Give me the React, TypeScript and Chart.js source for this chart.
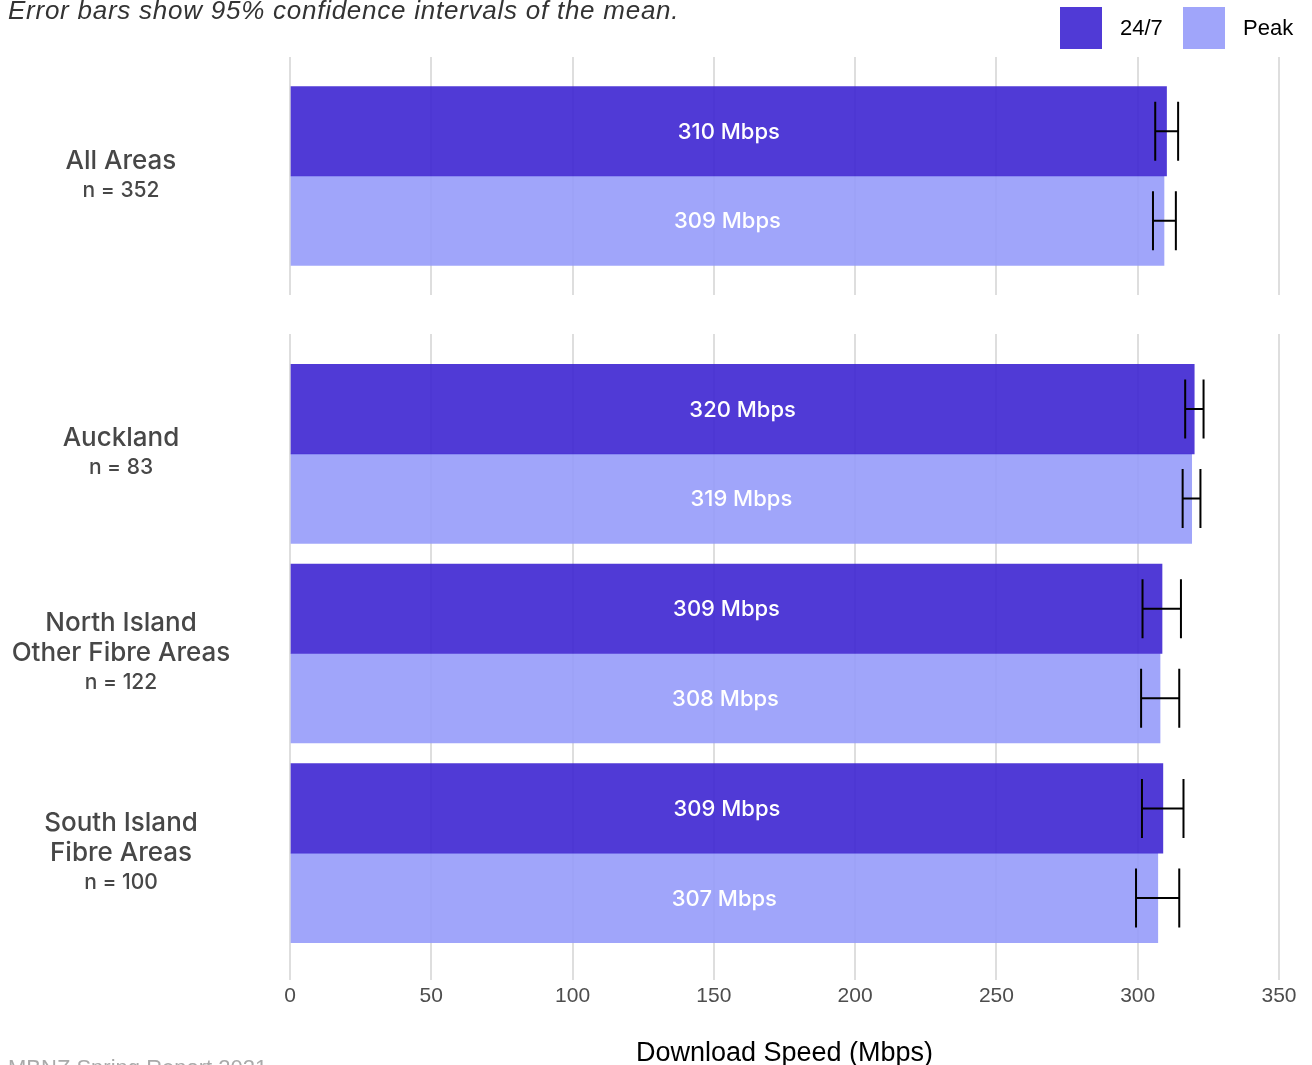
import React, { useEffect, useRef } from "react";
import { Chart, registerables } from "chart.js";

Chart.register(...registerables);

// ---------- data ----------
const seriesNames = ["24/7", "Peak"];

const topCategories = [["All Areas"]];
const topSamples = [352];
const top247 = [310.2];
const topPeak = [309.3];
const top247Low = [306.2];
const top247High = [314.3];
const topPeakLow = [305.4];
const topPeakHigh = [313.5];

const bottomCategories = [["Auckland"], ["North Island", "Other Fibre Areas"], ["South Island", "Fibre Areas"]];
const bottomSamples = [83, 122, 100];
const bottom247 = [320.0, 308.6, 308.9];
const bottomPeak = [319.1, 307.9, 307.1];
const bottom247Low = [316.8, 301.7, 301.5];
const bottom247High = [323.3, 315.3, 316.2];
const bottomPeakLow = [315.9, 301.2, 299.4];
const bottomPeakHigh = [322.2, 314.7, 314.7];

const xMin = 0;
const xMax = 350;
const xStep = 50;

const subtitleText = "Error bars show 95% confidence intervals of the mean.";
const xAxisTitle = "Download Speed (Mbps)";
const captionText = "MBNZ Spring Report 2021";

// ---------- styles ----------
const COLOR_247 = "rgba(61,37,209,0.9)";
const COLOR_PEAK = "rgba(150,155,250,0.9)";
const GRID_COLOR = "#dedede";
const FONT_LABEL = "Inter, 'Open Sans', sans-serif";
const FONT_AXIS = "'Liberation Sans', Arial, sans-serif";

function makeLabelPlugin(cats: string[][], samples: number[]) {
  return {
    id: "catLabels",
    afterDraw(chart: any) {
      const ys = chart.scales.y;
      const ctx = chart.ctx;
      ctx.save();
      ctx.fillStyle = "#474747";
      ctx.textAlign = "center";
      ctx.textBaseline = "middle";
      cats.forEach((lines, i) => {
        const cy = ys.getPixelForValue(i + 1);
        const all = [...lines, `n = ${samples[i]}`];
        const step = 29.5;
        const y0 = cy - ((all.length - 1) * step) / 2 - 0.5;
        all.forEach((t, k) => {
          const isN = k === all.length - 1;
          ctx.font = isN ? `500 21px ${FONT_LABEL}` : `500 26px ${FONT_LABEL}`;
          ctx.fillText(t, 121, y0 + k * step);
        });
      });
      ctx.restore();
    },
  };
}

const barDecorPlugin = {
  id: "barDecor",
  afterDatasetsDraw(chart: any) {
    const ctx = chart.ctx;
    const xs = chart.scales.x;
    ctx.save();
    chart.data.datasets.forEach((ds: any, di: number) => {
      const meta = chart.getDatasetMeta(di);
      meta.data.forEach((el: any, j: number) => {
        const p = el.getProps(["x", "y", "base"], true);
        const v = ds.data[j].x;
        ctx.fillStyle = "#ffffff";
        ctx.font = `500 22px ${FONT_LABEL}`;
        ctx.textAlign = "center";
        ctx.textBaseline = "middle";
        ctx.fillText(`${Math.round(v)} Mbps`, (p.x + p.base) / 2, p.y + 1);
        const xl = xs.getPixelForValue(ds.errLow[j]);
        const xh = xs.getPixelForValue(ds.errHigh[j]);
        const half = 29.5;
        ctx.strokeStyle = "#000000";
        ctx.lineWidth = 2;
        ctx.beginPath();
        ctx.moveTo(xl, p.y);
        ctx.lineTo(xh, p.y);
        ctx.moveTo(xl, p.y - half);
        ctx.lineTo(xl, p.y + half);
        ctx.moveTo(xh, p.y - half);
        ctx.lineTo(xh, p.y + half);
        ctx.stroke();
      });
    });
    ctx.restore();
  },
};

function buildConfig(
  cats: string[][],
  samples: number[],
  v247: number[],
  vPeak: number[],
  lo247: number[],
  hi247: number[],
  loPeak: number[],
  hiPeak: number[],
  isBottom: boolean
): any {
  const n = cats.length;
  return {
    type: "bar",
    data: {
      datasets: [
        {
          label: seriesNames[0],
          data: v247.map((v, i) => ({ x: v, y: i + 1 })),
          backgroundColor: COLOR_247,
          borderWidth: 0,
          errLow: lo247,
          errHigh: hi247,
        },
        {
          label: seriesNames[1],
          data: vPeak.map((v, i) => ({ x: v, y: i + 1 })),
          backgroundColor: COLOR_PEAK,
          borderWidth: 0,
          errLow: loPeak,
          errHigh: hiPeak,
        },
      ],
    },
    options: {
      animation: false,
      responsive: true,
      maintainAspectRatio: false,
      indexAxis: "y",
      datasets: { bar: { barThickness: 89.5 } },
      layout: {
        padding: isBottom
          ? { top: 34, left: 290, right: 33, bottom: 0 }
          : { top: 57, left: 290, right: 33, bottom: 5 },
      },
      plugins: {
        legend: { display: false },
        tooltip: { enabled: false },
      },
      scales: {
        y: {
          type: "linear",
          display: false,
          reverse: true,
          offset: false,
          bounds: "data",
          grid: { offset: false },
          min: 0.4,
          max: n + 0.6,
        },
        x: {
          type: "linear",
          min: xMin,
          max: xMax,
          border: { display: false },
          grid: {
            color: GRID_COLOR,
            lineWidth: 2,
            drawTicks: isBottom,
            tickLength: 7,
            tickColor: GRID_COLOR,
          },
          ticks: {
            display: isBottom,
            stepSize: xStep,
            color: "#4d4d4d",
            padding: 4,
            font: { family: FONT_AXIS, size: 21 },
          },
          title: {
            display: isBottom,
            text: xAxisTitle,
            color: "#000000",
            font: { family: FONT_AXIS, size: 27 },
            padding: { top: 0, bottom: 20 },
          },
          afterFit: (scale: any) => {
            scale.height = isBottom ? 117 : 0;
          },
        },
      },
    },
    plugins: [makeLabelPlugin(cats, samples), barDecorPlugin],
  };
}

export default function App() {
  const topRef = useRef<HTMLCanvasElement | null>(null);
  const bottomRef = useRef<HTMLCanvasElement | null>(null);

  useEffect(() => {
    const top = new Chart(
      topRef.current as HTMLCanvasElement,
      buildConfig(topCategories, topSamples, top247, topPeak, top247Low, top247High, topPeakLow, topPeakHigh, false)
    );
    const bottom = new Chart(
      bottomRef.current as HTMLCanvasElement,
      buildConfig(
        bottomCategories,
        bottomSamples,
        bottom247,
        bottomPeak,
        bottom247Low,
        bottom247High,
        bottomPeakLow,
        bottomPeakHigh,
        true
      )
    );
    return () => {
      top.destroy();
      bottom.destroy();
    };
  }, []);

  const legendText: React.CSSProperties = {
    position: "absolute",
    top: 14,
    fontFamily: FONT_AXIS,
    fontSize: 22,
    lineHeight: "28px",
    color: "#000",
  };

  return (
    <div
      style={{
        position: "fixed",
        left: 0,
        top: 0,
        width: 1312,
        height: 1065,
        overflow: "hidden",
        background: "#fff",
      }}
    >
      <div style={{ position: "absolute", left: 0, top: 0, width: 1312, height: 300 }}>
        <canvas ref={topRef} />
      </div>
      <div style={{ position: "absolute", left: 0, top: 300, width: 1312, height: 790 }}>
        <canvas ref={bottomRef} />
      </div>
      <div
        style={{
          position: "absolute",
          left: 8,
          top: -3,
          fontFamily: FONT_AXIS,
          fontStyle: "italic",
          fontSize: 26,
          letterSpacing: "0.75px",
          lineHeight: "27px",
          color: "#333",
          whiteSpace: "nowrap",
        }}
      >
        {subtitleText}
      </div>
      <div style={{ position: "absolute", left: 1060, top: 7, width: 42, height: 42, background: COLOR_247 }} />
      <div style={{ ...legendText, left: 1120 }}>{seriesNames[0]}</div>
      <div style={{ position: "absolute", left: 1183, top: 7, width: 42, height: 42, background: COLOR_PEAK }} />
      <div style={{ ...legendText, left: 1243 }}>{seriesNames[1]}</div>
      <div
        style={{
          position: "absolute",
          left: 8,
          top: 1057,
          fontFamily: FONT_AXIS,
          fontSize: 22,
          lineHeight: "22px",
          color: "#aaa",
          whiteSpace: "nowrap",
        }}
      >
        {captionText}
      </div>
    </div>
  );
}
